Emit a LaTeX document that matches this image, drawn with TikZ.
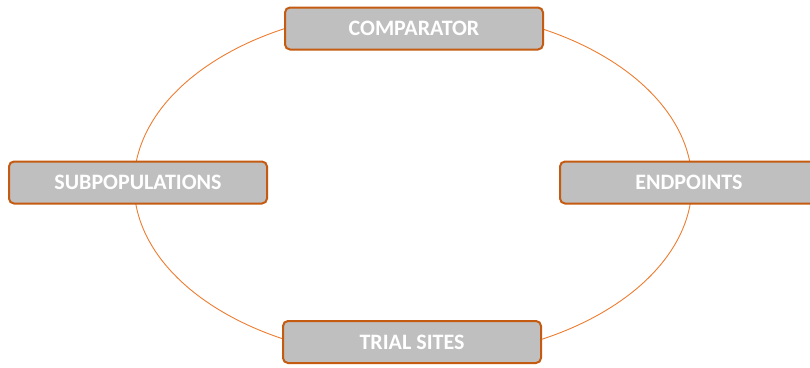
\documentclass[tikz,border=0pt]{standalone}
\usepackage{fontspec}
\setmainfont{Carlito}
\definecolor{boxedge}{RGB}{197,90,17}
\definecolor{boxfill}{RGB}{191,191,191}
\definecolor{ringcol}{RGB}{237,125,49}
\tikzset{
  stagebox/.style={draw=boxedge, line width=2pt, fill=boxfill, rounded corners=5pt,
    minimum width=258pt, minimum height=42pt, inner sep=0pt,
    text=white, font=\bfseries\fontsize{22}{26}\selectfont},
  ring/.style={draw=ringcol, line width=0.9pt}
}
\begin{document}
\begin{tikzpicture}[x=1pt,y=-1pt]
\useasboundingbox (0,0) rectangle (810,367);
\coordinate (ctr) at (413,184);
\draw[ring] (ctr) ellipse [x radius=279pt, y radius=175pt];
\node[stagebox] (comp) at (414,28.5) {COMPARATOR};
\node[stagebox] (sub) at (138,182.5) {SUBPOPULATIONS};
\node[stagebox] (endp) at (689,182.5) {ENDPOINTS};
\node[stagebox] (trial) at (412,342) {TRIAL SITES};
\end{tikzpicture}
\end{document}
